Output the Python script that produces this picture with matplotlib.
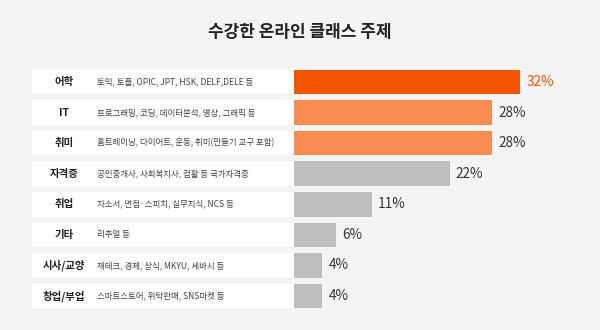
import matplotlib.pyplot as plt
from matplotlib.patches import Rectangle

plt.rcParams['font.family'] = ['Noto Sans CJK KR', 'DejaVu Sans']

categories = ['어학', 'IT', '취미', '자격증', '취업', '기타', '시사/교양', '창업/부업']
descriptions = [
    '토익, 토플, OPIC, JPT, HSK, DELF,DELE 등',
    '프로그래밍, 코딩, 데이터분석, 영상, 그래픽 등',
    '홈트레이닝, 다이어트, 운동, 취미(만들기 교구 포함)',
    '공인중개사, 사회복지사, 컴활 등 국가자격증',
    '자소서, 면접·스피치, 실무지식, NCS 등',
    '리추얼 등',
    '재테크, 경제, 상식, MKYU, 세바시 등',
    '스마트스토어, 위탁판매, SNS마켓 등',
]
values = [32, 28, 28, 22, 11, 6, 4, 4]

bg = '#f4f4f4'
bar_colors = ['#f45600', '#f88b4f', '#f88b4f'] + ['#bebebe'] * 5
W, H = 600, 330
px_per_unit = 7.07
bar_x0 = 294
box_x0 = 32

fig = plt.figure(figsize=(W / 100, H / 100), dpi=100, facecolor=bg)
top_px, bot_px = 66.7, 311.3
ax = fig.add_axes([0, 1 - bot_px / H, 1, (bot_px - top_px) / H])
ax.set_facecolor(bg)
ax.set_xlim(-bar_x0 / px_per_unit, (W - bar_x0) / px_per_unit)
ax.set_ylim(len(values) - 0.5, -0.5)
ax.axis('off')

ys = list(range(len(values)))
trans = ax.get_yaxis_transform()
for y, cat, desc in zip(ys, categories, descriptions):
    ax.add_patch(Rectangle((box_x0 / W, y - 0.4), (bar_x0 - box_x0) / W, 0.8,
                           transform=trans, facecolor='white', edgecolor='none'))
    ax.text(64 / W, y, cat, transform=trans, ha='center', va='center',
            fontsize=7.5, fontweight='bold', color='#222222')
    ax.text(97 / W, y, desc, transform=trans, ha='left', va='center',
            fontsize=6.1, color='#444444')

ax.barh(ys, values, height=0.8, color=bar_colors)
for i, (y, v) in enumerate(zip(ys, values)):
    ax.text(v + 6 / px_per_unit, y, f'{v}%', ha='left', va='center', fontsize=9.8,
            color='#f45600' if i == 0 else '#333333')

fig.text(0.5, 1 - 32 / H, '수강한 온라인 클래스 주제', ha='center', va='center',
         fontsize=12.2, fontweight='bold', color='#222222')

fig.savefig('out.png', dpi=100, facecolor=bg)
